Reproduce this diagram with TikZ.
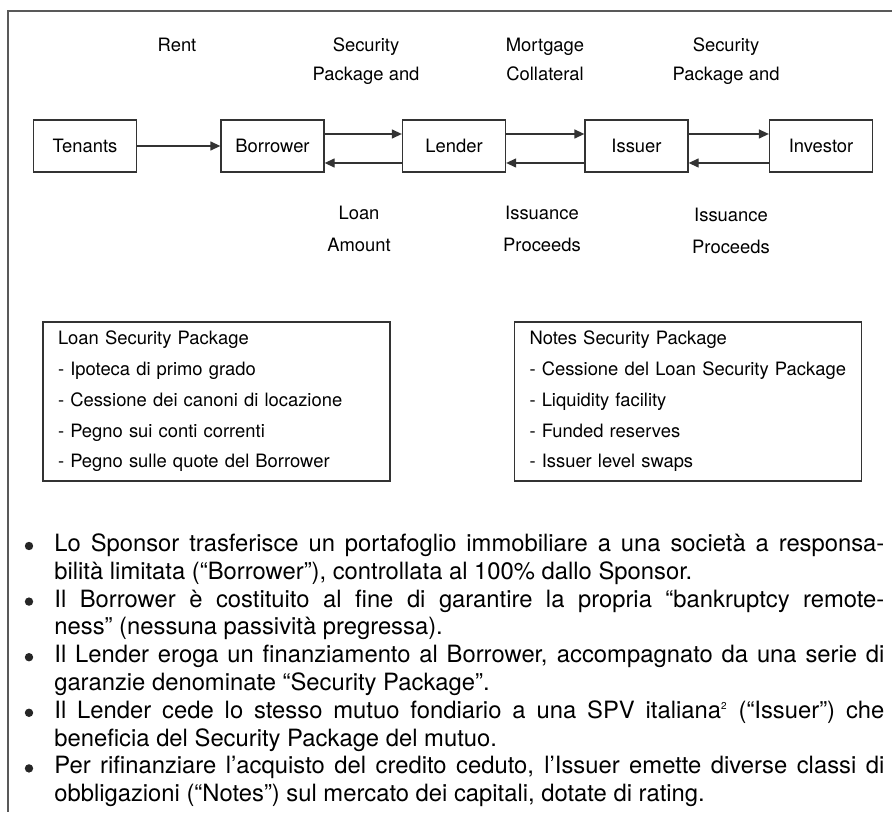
\documentclass[tikz,border=0pt]{standalone}
\usepackage{fontspec}
\setmainfont{TeX Gyre Heros}
\usetikzlibrary{arrows.meta}

\tikzset{
  party/.style={draw=black!80, line width=0.65pt, minimum width=51.5pt, minimum height=26pt, inner sep=0pt, font=\fontsize{9.2}{11}\selectfont},
  flow/.style={draw=black!80, line width=0.65pt, -{Triangle[length=5pt,width=4.5pt]}},
  lbl/.style={anchor=base, inner sep=0pt, font=\fontsize{9.2}{11}\selectfont},
  pkg/.style={draw=black!80, line width=0.65pt, text width=158.5pt, minimum height=79.5pt, inner xsep=7.5pt, inner ysep=0pt, align=left, font=\fontsize{9.2}{15.35}\selectfont},
  item/.style={anchor=base west, inner sep=0pt, text width=415pt, align=justify, font=\fontsize{11.9}{13.9}\selectfont},
  dot/.style={circle, fill=black!85, inner sep=0pt, minimum size=4.2pt}
}

\begin{document}
\begin{tikzpicture}[x=0.5pt,y=-0.5pt]
        \useasboundingbox (0,0) rectangle (892,812);
        \draw[black!65, line width=1pt] (892,11) -- (8,11) -- (8,812);
        % parties
        \node[party] (tenants) at (85,146) {Tenants};
        \node[party] (borrower) at (272.5,146) {Borrower};
        \node[party] (lender) at (454,146) {Lender};
        \node[party] (issuer) at (636.5,146) {Issuer};
        \node[party] (investor) at (821,146) {Investor};
        % flows
        \draw[flow] (tenants) -- (borrower);
        \draw[flow] ([yshift=6pt]borrower.east) -- ([yshift=6pt]lender.west);
        \draw[flow] ([yshift=-8.5pt]lender.west) -- ([yshift=-8.5pt]borrower.east);
        \draw[flow] ([yshift=6pt]lender.east) -- ([yshift=6pt]issuer.west);
        \draw[flow] ([yshift=-8.5pt]issuer.west) -- ([yshift=-8.5pt]lender.east);
        \draw[flow] ([yshift=6pt]issuer.east) -- ([yshift=6pt]investor.west);
        \draw[flow] ([yshift=-8.5pt]investor.west) -- ([yshift=-8.5pt]issuer.east);
        % labels
        \node[lbl] (rent) at (177,51.5) {Rent};
        \node[lbl] (secA) at (366,51.5) {Security};
        \node[lbl] (pkgA) at (366,80.5) {Package and};
        \node[lbl] (mort) at (545,51.5) {Mortgage};
        \node[lbl] (coll) at (545,80.5) {Collateral};
        \node[lbl] (secB) at (726,51.5) {Security};
        \node[lbl] (pkgB) at (726,80.5) {Package and};
        \node[lbl] (loan) at (359,219.5) {Loan};
        \node[lbl] (amount) at (359,251.5) {Amount};
        \node[lbl] (issA) at (542,219.5) {Issuance};
        \node[lbl] (procA) at (542,251.5) {Proceeds};
        \node[lbl] (issB) at (731,221.5) {Issuance};
        \node[lbl] (procB) at (731,253.5) {Proceeds};
        % packages
        \node[pkg] (loanpkg) at (216.5,401.5) {Loan Security Package\\- Ipoteca di primo grado\\- Cessione dei canoni di locazione\\- Pegno sui conti correnti\\- Pegno sulle quote del Borrower};
        \node[pkg] (notespkg) at (688,401.5) {Notes Security Package\\- Cessione del Loan Security Package\\- Liquidity facility\\- Funded reserves\\- Issuer level swaps};
        % bullets
        \foreach \k in {1,...,5}
            \node[dot] (dot\k) at (29,{546+55.6*(\k-1)}) {};
        \node[item] (item1) at (54,551.5) {Lo Sponsor trasferisce un portafoglio immobiliare a una società a responsa-\linebreak bilità limitata (“Borrower”), controllata al 100\% dallo Sponsor.};
        \node[item] (item2) at (54,607.1) {Il Borrower è costituito al fine di garantire la propria “bankruptcy remote-\linebreak ness” (nessuna passività pregressa).};
        \node[item] (item3) at (54,662.7) {Il Lender eroga un finanziamento al Borrower, accompagnato da una serie di\linebreak garanzie denominate “Security Package”.};
        \node[item] (item4) at (54,718.3) {Il Lender cede lo stesso mutuo fondiario a una SPV italiana\textsuperscript{\tiny 2} (“Issuer”) che\linebreak beneficia del Security Package del mutuo.};
        \node[item] (item5) at (54,773.9) {Per rifinanziare l’acquisto del credito ceduto, l’Issuer emette diverse classi di\linebreak obbligazioni (“Notes”) sul mercato dei capitali, dotate di rating.};
\end{tikzpicture}
\end{document}
